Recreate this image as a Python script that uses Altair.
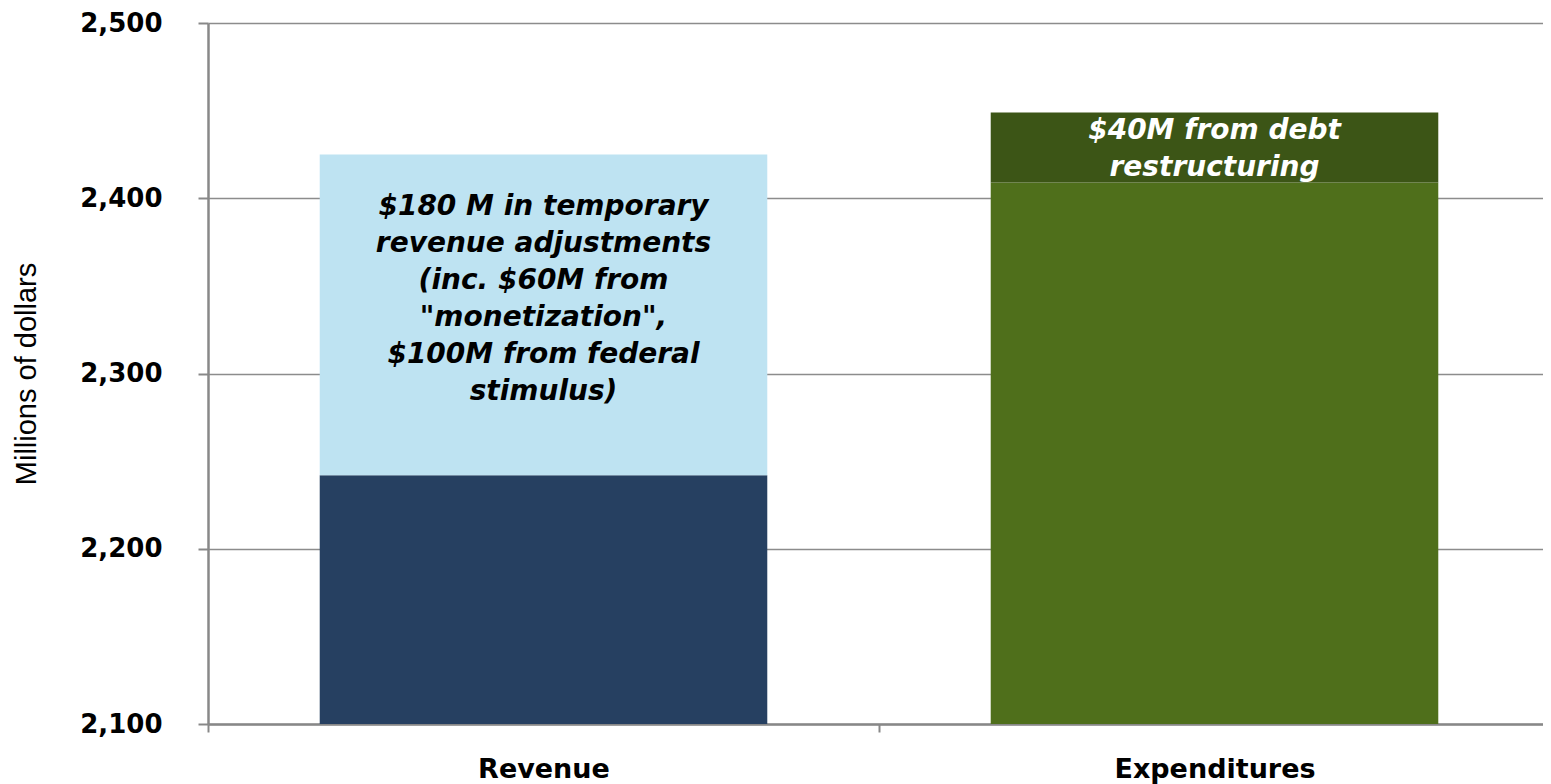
import altair as alt
import pandas as pd

# ---- data ----
categories = ["Revenue", "Expenditures"]
base_values = [2242, 2409]          # recurring revenue / core expenditures (millions)
adjust_values = [183, 40]           # temporary adjustments / debt restructuring (millions)
segment_keys = ["rev_base", "rev_adj", "exp_base", "exp_adj"]
segment_colors = ["#264061", "#BEE3F2", "#4F6F1B", "#3C5516"]
y_ticks = [2100, 2200, 2300, 2400, 2500]

revenue_note = [
    "$180 M in temporary",
    "revenue adjustments",
    "(inc. $60M  from",
    "\"monetization\",",
    "$100M from federal",
    "stimulus)",
]
expenditure_note = ["$40M from debt", "restructuring"]

rows = []
for cat, base, adj, kb, ka in zip(categories, base_values, adjust_values,
                                  segment_keys[0::2], segment_keys[1::2]):
    rows.append({"category": cat, "key": kb, "start": 0, "end": base})
    rows.append({"category": cat, "key": ka, "start": base, "end": base + adj})
bars_df = pd.DataFrame(rows)

notes_df = pd.DataFrame({
    "category": categories,
    "mid": [b + a / 2 for b, a in zip(base_values, adjust_values)],
    "note": ["\n".join(revenue_note), "\n".join(expenditure_note)],
})

LINE_H = 37
VIEW_W = 1335          # visible plot width (page must not overflow horizontally)
BAND_RANGE = 1342      # the category axis runs on past the window edge

x_scale = alt.Scale(paddingInner=0, paddingOuter=0, range=[0, BAND_RANGE])
x_enc = alt.X(
    "category:N",
    sort=categories,
    scale=x_scale,
    axis=alt.Axis(
        title=None, labelAngle=0, tickBand="extent", tickSize=8,
        labelFont="DejaVu Sans", labelFontWeight="bold", labelFontSize=27,
        labelColor="#000000", labelPadding=24, labelLimit=500, grid=False,
    ),
)
y_scale = alt.Scale(domain=[2100, 2500], nice=False, zero=False)

bars = alt.Chart(bars_df).mark_bar(clip=True, width=alt.RelativeBandSize(0.667)).encode(
    x=x_enc,
    y=alt.Y(
        "start:Q", scale=y_scale,
        axis=alt.Axis(
            values=y_ticks, format=",d", title="Millions of dollars",
            titleFont="Liberation Sans", titleFontSize=29, titleFontWeight="normal",
            titleColor="#000000", titleX=-173, titleBaseline="alphabetic",
            labelFont="DejaVu Sans", labelFontWeight="bold", labelFontSize=26,
            labelColor="#000000", labelPadding=36, tickSize=10,
        ),
    ),
    y2="end:Q",
    color=alt.Color("key:N", scale=alt.Scale(domain=segment_keys, range=segment_colors),
                    legend=None),
)

text_style = dict(font="DejaVu Sans", fontStyle="italic", fontWeight="bold", fontSize=28,
                  lineBreak="\n", lineHeight=LINE_H, baseline="middle")

rev_text = alt.Chart(notes_df).transform_filter(
    alt.datum.category == categories[0]
).mark_text(
    color="#000000", dy=-15 - (len(revenue_note) - 1) / 2 * LINE_H, **text_style
).encode(x=alt.X("category:N", sort=categories), y=alt.Y("mid:Q"), text="note:N")

exp_text = alt.Chart(notes_df).transform_filter(
    alt.datum.category == categories[1]
).mark_text(
    color="#FFFFFF", dy=2 - (len(expenditure_note) - 1) / 2 * LINE_H, **text_style
).encode(x=alt.X("category:N", sort=categories), y=alt.Y("mid:Q"), text="note:N")

chart = alt.layer(bars, rev_text, exp_text).properties(
    width=VIEW_W, height=701,
    autosize=alt.AutoSizeParams(type="none"),
    padding={"left": 200, "top": 15, "right": 0, "bottom": 60},
).configure_view(stroke=None).configure_axis(
    gridColor="#8C8C8C", gridWidth=1.5,
    domainColor="#888888", domainWidth=2.5,
    tickColor="#888888", tickWidth=2,
)

chart.save("out.html", embed_options={"renderer": "svg", "actions": False})
